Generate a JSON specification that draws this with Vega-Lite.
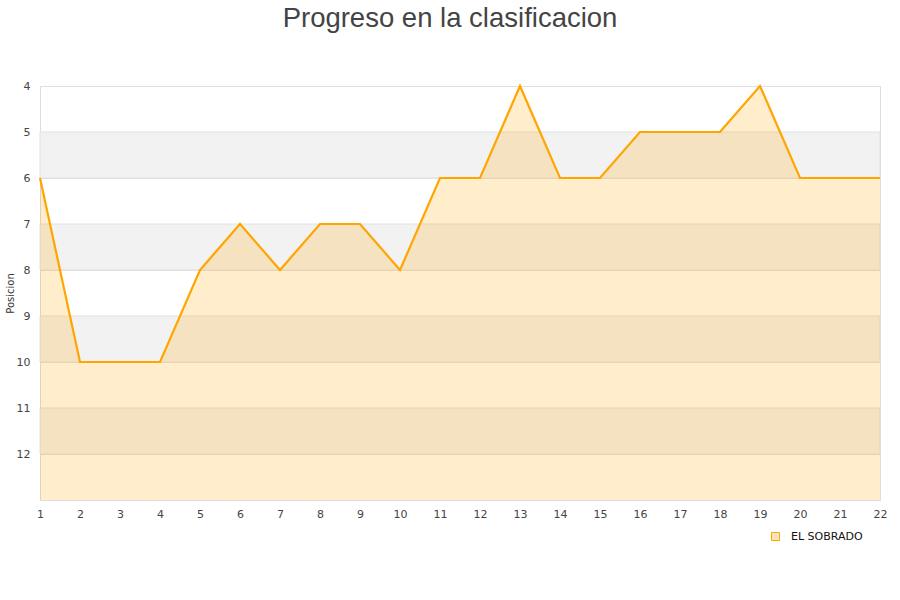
{
  "$schema": "https://vega.github.io/schema/vega-lite/v6.json",
  "width": 840,
  "height": 414,
  "autosize": {"type": "none"},
  "padding": {"left": 40, "top": 86, "right": 20, "bottom": 100},
  "background": "white",
  "title": {
    "text": "Progreso en la clasificacion",
    "fontSize": 27.5,
    "font": "Liberation Sans",
    "fontWeight": "normal",
    "color": "#444444",
    "anchor": "middle",
    "dx": -10,
    "offset": 48
  },
  "config": {
    "view": {"stroke": "#dddddd"},
    "axis": {
      "labelFont": "DejaVu Sans",
      "labelFontSize": 11,
      "labelColor": "#444444",
      "ticks": false,
      "domain": false,
      "labelOverlap": false,
      "labelFlush": false,
      "titleFont": "DejaVu Sans",
      "titleFontSize": 10,
      "titleFontWeight": "normal",
      "titleColor": "#333333"
    }
  },
  "datasets": {
    "bands": [
      {"from": 5, "to": 6},
      {"from": 7, "to": 8},
      {"from": 9, "to": 10},
      {"from": 11, "to": 12}
    ],
    "series": [
      {"jornada": 1, "pos": 6, "team": "EL SOBRADO"},
      {"jornada": 2, "pos": 10, "team": "EL SOBRADO"},
      {"jornada": 3, "pos": 10, "team": "EL SOBRADO"},
      {"jornada": 4, "pos": 10, "team": "EL SOBRADO"},
      {"jornada": 5, "pos": 8, "team": "EL SOBRADO"},
      {"jornada": 6, "pos": 7, "team": "EL SOBRADO"},
      {"jornada": 7, "pos": 8, "team": "EL SOBRADO"},
      {"jornada": 8, "pos": 7, "team": "EL SOBRADO"},
      {"jornada": 9, "pos": 7, "team": "EL SOBRADO"},
      {"jornada": 10, "pos": 8, "team": "EL SOBRADO"},
      {"jornada": 11, "pos": 6, "team": "EL SOBRADO"},
      {"jornada": 12, "pos": 6, "team": "EL SOBRADO"},
      {"jornada": 13, "pos": 4, "team": "EL SOBRADO"},
      {"jornada": 14, "pos": 6, "team": "EL SOBRADO"},
      {"jornada": 15, "pos": 6, "team": "EL SOBRADO"},
      {"jornada": 16, "pos": 5, "team": "EL SOBRADO"},
      {"jornada": 17, "pos": 5, "team": "EL SOBRADO"},
      {"jornada": 18, "pos": 5, "team": "EL SOBRADO"},
      {"jornada": 19, "pos": 4, "team": "EL SOBRADO"},
      {"jornada": 20, "pos": 6, "team": "EL SOBRADO"},
      {"jornada": 21, "pos": 6, "team": "EL SOBRADO"},
      {"jornada": 22, "pos": 6, "team": "EL SOBRADO"}
    ]
  },
  "layer": [
    {
      "data": {"name": "bands"},
      "mark": {"type": "rect", "fill": "#f2f2f2", "stroke": "#e0e0e0", "strokeWidth": 1},
      "encoding": {
        "y": {
          "field": "from",
          "type": "quantitative",
          "title": "Posicion",
          "scale": {"domain": [4, 13], "reverse": true, "nice": false, "zero": false},
          "axis": {"values": [4,5,6,7,8,9,10,11,12], "grid": true, "gridColor": "#e0e0e0", "labelPadding": 10, "titlePadding": 1, "format": "d"}
        },
        "y2": {"field": "to"}
      }
    },
    {
      "data": {"name": "series"},
      "layer": [
        {
          "mark": {"type": "area", "color": "#ffa500", "opacity": 0.2, "interpolate": "linear"},
          "encoding": {
            "x": {
              "field": "jornada",
              "type": "quantitative",
              "title": null,
              "scale": {"domain": [1, 22], "nice": false, "zero": false},
              "axis": {"values": [1,2,3,4,5,6,7,8,9,10,11,12,13,14,15,16,17,18,19,20,21,22], "grid": false, "labelPadding": 8, "format": "d", "labelOverlap": false, "labelFlush": false}
            },
            "y": {"field": "pos", "type": "quantitative"},
            "y2": {"datum": 13}
          }
        },
        {
          "mark": {"type": "line", "strokeWidth": 2.2},
          "encoding": {
            "x": {
              "field": "jornada",
              "type": "quantitative",
              "title": null,
              "axis": {"values": [1,2,3,4,5,6,7,8,9,10,11,12,13,14,15,16,17,18,19,20,21,22], "grid": false, "labelPadding": 8, "format": "d", "labelOverlap": false, "labelFlush": false}
            },
            "y": {"field": "pos", "type": "quantitative"},
            "color": {
              "field": "team",
              "type": "nominal",
              "scale": {"range": ["#ffa500"]},
              "legend": {
                "title": null,
                "orient": "none",
                "legendX": 730,
                "legendY": 445,
                "symbolType": "square",
                "symbolSize": 64,
                "labelOffset": 10,
                "labelFont": "DejaVu Sans",
                "labelFontSize": 11,
                "labelColor": "#111111",
                "symbolFillColor": "#ffe6b8",
                "encode": {
                  "symbols": {
                    "enter": {
                      "fill": {"value": "#ffe6b8"},
                      "stroke": {"value": "#b09070"},
                      "strokeWidth": {"value": 1}
                    },
                    "update": {
                      "fill": {"value": "#ffe6b8"},
                      "stroke": {"value": "#b09070"},
                      "strokeWidth": {"value": 1}
                    }
                  }
                }
              }
            }
          }
        }
      ]
    }
  ]
}
